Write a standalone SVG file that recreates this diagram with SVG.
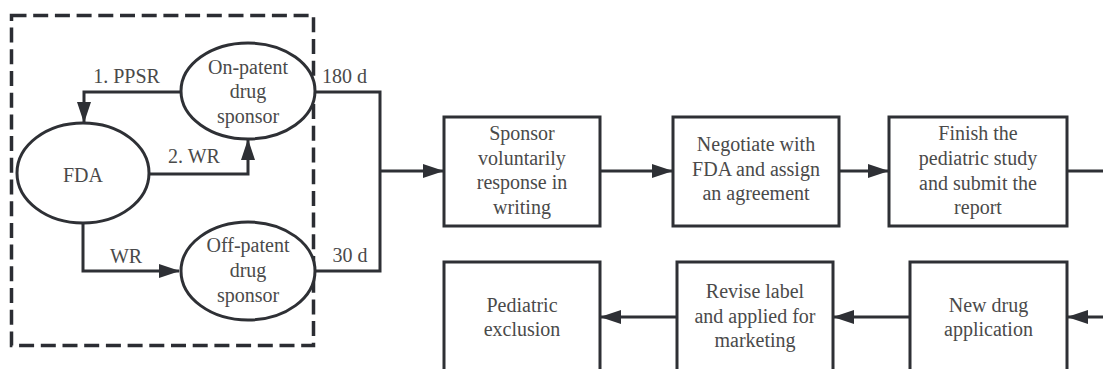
<svg xmlns="http://www.w3.org/2000/svg" width="1103" height="369" viewBox="0 0 1103 369">
<style>
.n{fill:#fff;stroke:#2e3035;stroke-width:3}
.t{font-family:'Liberation Serif','DejaVu Serif',Times,serif;font-size:20px;fill:#4a4a4a;text-anchor:middle}
.c{fill:none;stroke:#2e3035;stroke-width:3}
.d{fill:none;stroke:#2b2d33;stroke-width:3.5;stroke-dasharray:15 6.7}
</style>
<defs>
<marker id="ah" markerUnits="userSpaceOnUse" markerWidth="22" markerHeight="16" refX="20" refY="7" orient="auto">
<path d="M0,0 L21,7 L0,14 z" fill="#2e3035"/>
</marker>
</defs>
<rect width="1103" height="369" fill="#fff"/>
<rect class="d" x="11.5" y="15.5" width="302" height="330"/>
<g id="connectors">
<path class="c" d="M181,92 H84 V122" marker-end="url(#ah)"/>
<path class="c" d="M150,174 H248 V140" marker-end="url(#ah)"/>
<path class="c" d="M83,223 V271 H179" marker-end="url(#ah)"/>
<path class="c" d="M315,92 H380 V271 H315"/>
<path class="c" d="M380,171 H443" marker-end="url(#ah)"/>
<path class="c" d="M600,171 H672" marker-end="url(#ah)"/>
<path class="c" d="M839,171 H888" marker-end="url(#ah)"/>
<path class="c" d="M1067,171 H1103"/>
<path class="c" d="M1103,317 H1068" marker-end="url(#ah)"/>
<path class="c" d="M910,317 H834" marker-end="url(#ah)"/>
<path class="c" d="M677,317 H601" marker-end="url(#ah)"/>
<text class="t" font-family="Liberation Serif, serif" x="126.5" y="83">1. PPSR</text>
<text class="t" font-family="Liberation Serif, serif" x="194" y="163">2. WR</text>
<text class="t" font-family="Liberation Serif, serif" x="126" y="263">WR</text>
<text class="t" font-family="Liberation Serif, serif" x="344.5" y="83">180 d</text>
<text class="t" font-family="Liberation Serif, serif" x="350" y="262">30 d</text>
</g>
<g id="fda">
<ellipse class="n" cx="83" cy="173" rx="66" ry="50"/>
<text class="t" x="83" y="182">FDA</text>
</g>
<g id="on-patent">
<ellipse class="n" cx="248" cy="91" rx="67" ry="48"/>
<text class="t" x="248" y="74">On-patent</text>
<text class="t" x="248" y="98">drug</text>
<text class="t" x="248" y="123">sponsor</text>
</g>
<g id="off-patent">
<ellipse class="n" cx="248" cy="271" rx="67" ry="49"/>
<text class="t" x="248" y="252">Off-patent</text>
<text class="t" x="248" y="277">drug</text>
<text class="t" x="248" y="302">sponsor</text>
</g>
<g id="sponsor-response">
<rect class="n" x="444" y="117" width="156" height="109"/>
<text class="t" x="522" y="140">Sponsor</text>
<text class="t" x="522" y="165">voluntarily</text>
<text class="t" x="522" y="189">response in</text>
<text class="t" x="522" y="214">writing</text>
</g>
<g id="negotiate">
<rect class="n" x="673" y="117" width="166" height="109"/>
<text class="t" x="756" y="151">Negotiate with</text>
<text class="t" x="756" y="176">FDA and assign</text>
<text class="t" x="756" y="200">an agreement</text>
</g>
<g id="finish-study">
<rect class="n" x="889" y="117" width="178" height="109"/>
<text class="t" x="978" y="140">Finish the</text>
<text class="t" x="978" y="165">pediatric study</text>
<text class="t" x="978" y="190">and submit the</text>
<text class="t" x="978" y="214">report</text>
</g>
<g id="pediatric-exclusion">
<rect class="n" x="444" y="262" width="156" height="130"/>
<text class="t" x="522" y="312">Pediatric</text>
<text class="t" x="522" y="336">exclusion</text>
</g>
<g id="revise-label">
<rect class="n" x="677" y="262" width="156" height="130"/>
<text class="t" x="755" y="298">Revise label</text>
<text class="t" x="755" y="323">and applied for</text>
<text class="t" x="755" y="347">marketing</text>
</g>
<g id="new-drug">
<rect class="n" x="910" y="262" width="157" height="130"/>
<text class="t" x="988.5" y="312">New drug</text>
<text class="t" x="988.5" y="336">application</text>
</g>
</svg>
